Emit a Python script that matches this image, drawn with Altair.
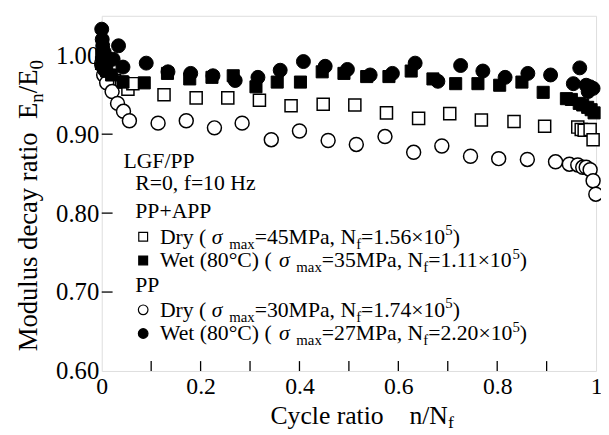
import altair as alt
import pandas as pd

# ---------------- data ----------------
x_ticks = [0, 0.2, 0.4, 0.6, 0.8, 1.0]
x_minor = [0.1, 0.2, 0.3, 0.4, 0.5, 0.6, 0.7, 0.8, 0.9]
y_ticks = [0.6, 0.7, 0.8, 0.9, 1.0]

# PP+APP, Dry (open squares)
app_dry_n = [0.0, 0.008, 0.015, 0.026, 0.04, 0.053, 0.063, 0.126, 0.191, 0.255, 0.319, 0.383, 0.448,
             0.512, 0.576, 0.641, 0.704, 0.768, 0.834, 0.896, 0.963, 0.970, 0.976, 0.988, 0.994]
app_dry_v = [0.99, 0.98, 0.972, 0.968, 0.966, 0.957, 0.964, 0.950, 0.946, 0.946, 0.943, 0.936, 0.938,
             0.937, 0.927, 0.920, 0.926, 0.918, 0.916, 0.910, 0.909, 0.906, 0.905, 0.906, 0.893]

# PP+APP, Wet 80C (filled squares)
app_wet_n = [0.0, 0.005, 0.01, 0.02, 0.043, 0.086, 0.133, 0.178, 0.223, 0.266, 0.312, 0.355, 0.402,
             0.446, 0.49, 0.536, 0.581, 0.626, 0.67, 0.716, 0.761, 0.805, 0.85, 0.893, 0.94, 0.95,
             0.966, 0.973, 0.983, 0.99, 0.996]
app_wet_v = [1.0, 0.99, 0.98, 0.975, 0.966, 0.965, 0.977, 0.970, 0.972, 0.974, 0.960, 0.966, 0.966,
             0.979, 0.977, 0.973, 0.973, 0.980, 0.970, 0.964, 0.964, 0.962, 0.966, 0.953, 0.945, 0.944,
             0.939, 0.937, 0.934, 0.931, 0.927]

# PP, Dry (open circles)
pp_dry_n = [0.0, 0.004, 0.01, 0.021, 0.032, 0.044, 0.056, 0.114, 0.171, 0.228, 0.284, 0.343, 0.400,
            0.458, 0.515, 0.573, 0.631, 0.688, 0.746, 0.803, 0.861, 0.918, 0.946, 0.963, 0.973, 0.980,
            0.988, 0.994, 0.9995]
pp_dry_v = [0.99, 0.975, 0.965, 0.954, 0.939, 0.929, 0.917, 0.914, 0.917, 0.908, 0.914, 0.893, 0.904,
            0.892, 0.887, 0.897, 0.877, 0.885, 0.872, 0.869, 0.868, 0.865, 0.862, 0.861, 0.858, 0.858,
            0.855, 0.841, 0.824]

# PP, Wet 80C (filled circles)
pp_wet_n = [0.0, 0.001, 0.002, 0.005, 0.008, 0.0, 0.006, 0.023, 0.034, 0.043, 0.09, 0.134, 0.18,
            0.225, 0.27, 0.316, 0.361, 0.408, 0.452, 0.497, 0.543, 0.588, 0.634, 0.68, 0.726, 0.771,
            0.816, 0.862, 0.908, 0.954, 0.967, 0.98, 0.984, 0.988, 0.994]
pp_wet_v = [1.033, 1.020, 1.012, 1.004, 0.995, 0.987, 0.981, 0.995, 1.012, 0.985, 0.990, 0.979, 0.977,
            0.974, 0.968, 0.972, 0.981, 0.992, 0.986, 0.982, 0.975, 0.977, 0.990, 0.967, 0.987, 0.980,
            0.972, 0.977, 0.975, 0.964, 0.984, 0.962, 0.954, 0.960, 0.958]

# legend texts
legend_head = ["LGF/PP", "R=0, f=10 Hz"]
groups = ["PP+APP", "PP"]
conditions = ["Dry", "Wet (80°C)", "Dry", "Wet (80°C)"]
sigma_max = ["45", "35", "30", "27"]
n_f = ["1.56", "1.11", "1.74", "2.20"]

# ---------------- layout ----------------
W, H = 501, 360
X0, Y0 = 103, 13          # plot origin in page pixels
FONT = "Liberation Serif"

WID = {' ': 250, '(': 333, ')': 333, ',': 250, '.': 250, '/': 278, '=': 564, '+': 564, '×': 564,
       'A': 722, 'C': 667, 'D': 722, 'E': 611, 'F': 556, 'G': 722, 'H': 722, 'L': 611, 'M': 889,
       'N': 722, 'P': 556, 'R': 667, 'W': 944, 'a': 444, 'c': 444, 'd': 500, 'e': 444, 'f': 333,
       'i': 278, 'l': 278, 'm': 778, 'n': 500, 'o': 500, 'r': 333, 's': 389, 't': 278, 'u': 500,
       'x': 500, 'y': 500, 'z': 444, 'σ': 552, '°': 400}
for d in "0123456789":
    WID[d] = 500


def tw(s, size):
    return sum(WID.get(c, 500) for c in s) * size / 1000.0


rows = []


def line(x, y, segs, main=22, small=15, rot=False, subdy=5, supdy=-9):
    cur = 0.0
    for text, kind in segs:
        size = main if kind in ("m", "i") else small
        shift = {"m": 0, "i": 0, "sub": subdy, "sup": supdy}[kind]
        if rot:
            px, py = x + shift, y - cur
        else:
            px, py = x + cur, y + shift
        rows.append(dict(px=px - X0, py=py - Y0, t=text, fs=size, ang=270 if rot else 0,
                         ital=(kind == "i")))
        cur += tw(text, size)


# legend block
line(125, 167, [(legend_head[0], "m")])
line(137, 190, [(legend_head[1], "m")])
line(137, 218, [(groups[0], "m")])
line(137, 293, [(groups[1], "m")])
ybase = [244, 268, 318, 342]
for i in range(4):
    line(162, ybase[i], [(conditions[i] + " ( ", "m"), ("σ", "i"), (" ", "m"), ("max", "sub"),
                         ("=" + sigma_max[i] + "MPa, N", "m"), ("f", "sub"),
                         ("=" + n_f[i] + "×10", "m"), ("5", "sup"), (")", "m")])

# axis titles
line(274, 427, [("Cycle ratio", "m"), ("    ", "m"), ("n/N", "m"), ("f", "sub")],
     main=26, small=18, subdy=4)
line(37, 353, [("Modulus decay ratio", "m"), ("  ", "m"), ("E", "m"), ("n", "sub"), ("/E", "m"),
               ("0", "sub")], main=27, small=19, rot=True, subdy=6)

ann = pd.DataFrame(rows)

# ---------------- chart ----------------
xs = alt.Scale(domain=[0, 1], nice=False, zero=False)
ys = alt.Scale(domain=[0.6, 1.05], nice=False, zero=False)

xaxis = alt.Axis(values=x_ticks, labelExpr="datum.value == 0 ? '0' : datum.value == 1 ? '1' : format(datum.value, '.1f')",
                 labelFont=FONT, labelFontSize=24, labelColor="black", ticks=False, tickSize=0,
                 domain=False, grid=False, title=None, labelPadding=4, labelFlush=False)
yaxis = alt.Axis(values=y_ticks, format=".2f", labelFont=FONT, labelFontSize=25, labelColor="black",
                 ticks=False, tickSize=0, domain=False, grid=False, title=None, labelPadding=3)


def series_df(n, v):
    return pd.DataFrame({"n": n, "v": v})


def pts(n, v, shape, filled, size):
    if filled:
        m = alt.Chart(series_df(n, v)).mark_point(shape=shape, filled=True, fill="black", stroke="black",
                                                  strokeWidth=1, size=size, opacity=1)
    else:
        m = alt.Chart(series_df(n, v)).mark_point(shape=shape, filled=True, fill="white", stroke="black",
                                                  strokeWidth=1.5, size=size, opacity=1)
    return m.encode(x=alt.X("n:Q", scale=xs, axis=xaxis), y=alt.Y("v:Q", scale=ys, axis=yaxis))


base_layers = [
    pts(app_dry_n, app_dry_v, "square", False, 150),
    pts(pp_dry_n, pp_dry_v, "circle", False, 200),
    pts(app_wet_n, app_wet_v, "square", True, 150),
    pts(pp_wet_n, pp_wet_v, "circle", True, 200),
]

xtick_rules = alt.Chart(pd.DataFrame({"t": x_minor})).mark_rule(color="black", strokeWidth=1.3).encode(
    x=alt.X("t:Q", scale=xs), y=alt.value(H), y2=alt.value(H - 10))
ytick_rules = alt.Chart(pd.DataFrame({"t": y_ticks[1:]})).mark_rule(color="black", strokeWidth=1.3).encode(
    y=alt.Y("t:Q", scale=ys), x=alt.value(0), x2=alt.value(11))

# legend markers
leg_mk = []
mk_y = [237, 261, 311, 335]
mk_def = [("square", False, 80), ("square", True, 80), ("circle", False, 95), ("circle", True, 95)]
for (shape, filled, size), yy in zip(mk_def, mk_y):
    leg_mk.append(
        alt.Chart(pd.DataFrame({"k": [0]})).mark_point(
            shape=shape, filled=True, fill="black" if filled else "white", stroke="black",
            strokeWidth=1.2, size=size, opacity=1).encode(x=alt.value(145 - X0), y=alt.value(yy - Y0)))


def text_layer(df, italic):
    return alt.Chart(df).mark_text(align="left", baseline="alphabetic", font=FONT, color="black",
                                   fontStyle="italic" if italic else "normal").encode(
        x=alt.X("px:Q", scale=None), y=alt.Y("py:Q", scale=None),
        size=alt.Size("fs:Q", scale=None, legend=None),
        angle=alt.Angle("ang:Q", scale=None), text="t:N")


txt = [text_layer(ann[~ann.ital], False), text_layer(ann[ann.ital], True)]

chart = alt.layer(*base_layers, xtick_rules, ytick_rules, *leg_mk, *txt).properties(
    width=W, height=H, autosize=alt.AutoSizeParams(type="none"),
    padding={"left": 95, "top": 5, "right": 5, "bottom": 62}
).configure_view(stroke="black", strokeWidth=1.5).configure(background="white")

chart.save("out.html", embed_options={"renderer": "svg", "actions": False})
